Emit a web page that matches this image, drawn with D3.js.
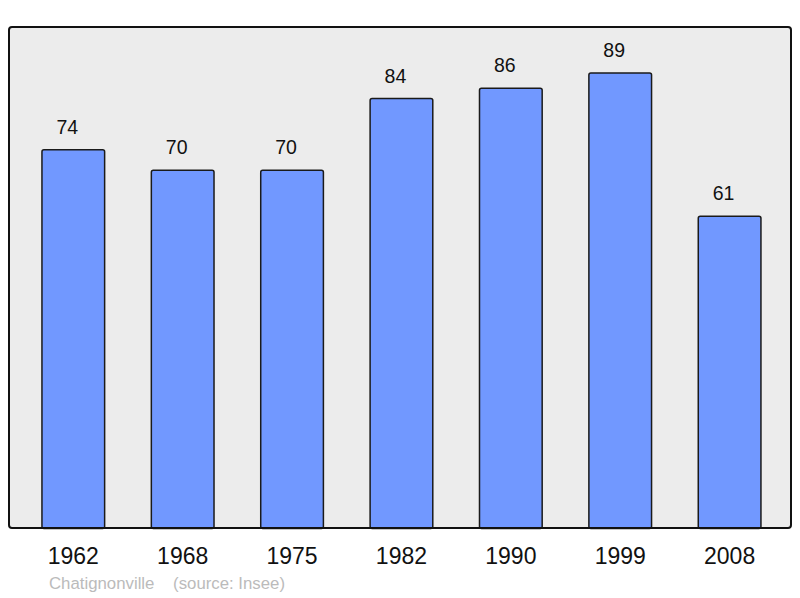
<!DOCTYPE html>
<html>
<head>
<meta charset="utf-8">
<script src="https://cdn.jsdelivr.net/npm/d3@7"></script>
<style>
  body { margin: 0; background: #fff; }
  text { font-family: "Liberation Sans", Arial, sans-serif; }
</style>
</head>
<body>
<script>
var years = ['1962', '1968', '1975', '1982', '1990', '1999', '2008'];
var population = [74, 70, 70, 84, 86, 89, 61];
var townName = 'Chatignonville';
var sourceNote = '(source: Insee)';

var width = 800, height = 598;
var frame = { left: 9, top: 27, right: 791, bottom: 528 };

var svg = d3.select('body').append('svg')
  .attr('width', width)
  .attr('height', height);

// plot background
svg.append('rect')
  .attr('x', frame.left)
  .attr('y', frame.top)
  .attr('width', frame.right - frame.left)
  .attr('height', frame.bottom - frame.top)
  .attr('rx', 3)
  .attr('fill', '#ececec');

var x = d3.scaleBand()
  .domain(years)
  .range([18.6, 784.3])
  .paddingInner(0.427)
  .paddingOuter(0.2135);

var y = d3.scaleLinear()
  .domain([0, 98])
  .range([frame.bottom, frame.top]);

// bars
svg.selectAll('rect.bar')
  .data(population)
  .enter()
  .append('rect')
  .attr('class', 'bar')
  .attr('x', function (d, i) { return x(years[i]); })
  .attr('y', function (d) { return y(d); })
  .attr('width', x.bandwidth())
  .attr('height', function (d) { return frame.bottom - y(d) + 0.5; })
  .attr('rx', 2)
  .attr('fill', '#7198ff')
  .attr('stroke', '#1a1a1a')
  .attr('stroke-width', 1.5);

// value labels (sit a little left of the bar centre, as in the original)
svg.selectAll('text.value')
  .data(population)
  .enter()
  .append('text')
  .attr('class', 'value')
  .attr('x', function (d, i) { return x(years[i]) + x.bandwidth() / 2 - 6; })
  .attr('y', function (d) { return y(d) - 16; })
  .attr('text-anchor', 'middle')
  .attr('font-size', 19.5)
  .attr('fill', '#111')
  .text(function (d) { return d; });

// frame border on top of bars
svg.append('rect')
  .attr('x', frame.left)
  .attr('y', frame.top)
  .attr('width', frame.right - frame.left)
  .attr('height', frame.bottom - frame.top)
  .attr('rx', 3)
  .attr('fill', 'none')
  .attr('stroke', '#111')
  .attr('stroke-width', 2);

// year axis
var xAxis = d3.axisBottom(x).tickSize(0).tickPadding(0);
var axisG = svg.append('g')
  .attr('transform', 'translate(0,' + frame.bottom + ')')
  .call(xAxis);
axisG.select('.domain').remove();
axisG.selectAll('text')
  .attr('dy', null)
  .attr('y', 36)
  .attr('font-size', 23)
  .attr('font-family', '"Liberation Sans", Arial, sans-serif')
  .attr('fill', '#111');

// footer
svg.append('text')
  .attr('x', 49)
  .attr('y', 589)
  .attr('font-size', 16.8)
  .attr('fill', '#bbbbbb')
  .attr('xml:space', 'preserve')
  .style('white-space', 'pre')
  .text(townName + '    ' + sourceNote);
</script>
</body>
</html>
